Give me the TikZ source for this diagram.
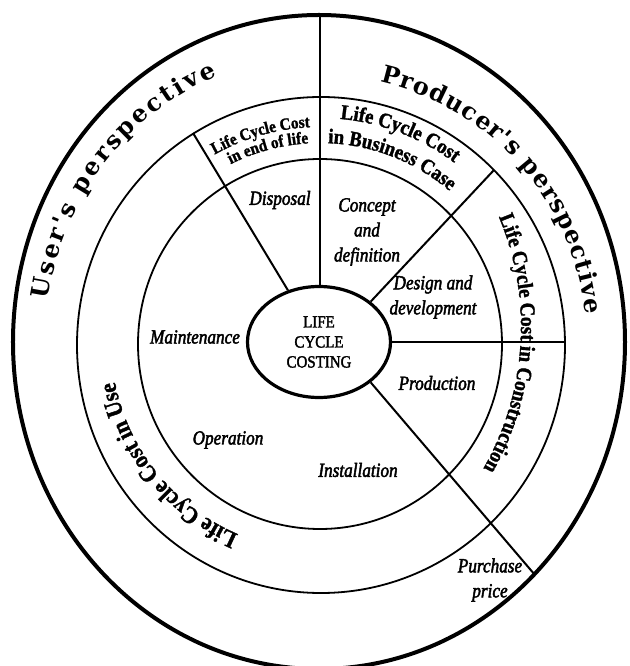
\documentclass[tikz,border=0pt]{standalone}
\usepackage{fontspec}
\setmainfont{Liberation Serif}
\newfontfamily\perspfont{DejaVu Serif}
\newfontfamily\phasefont[FakeStretch=0.86, FakeBold=2.2]{Liberation Serif}
\newfontfamily\bandfont[FakeStretch=0.9, FakeBold=1.5]{Liberation Serif}
\newfontfamily\hubfont[FakeStretch=0.88, FakeBold=2]{Liberation Serif}
\usetikzlibrary{shapes.geometric,decorations.text}

\tikzset{
  rim/.style={line width=4pt},
  ring/.style={line width=1.8pt},
  spoke/.style={line width=2pt},
  hub/.style={ellipse, draw, line width=3.2pt, minimum width=143pt,
    minimum height=111pt, inner sep=0pt, align=center,
    font=\hubfont\fontsize{17}{20}\selectfont},
  phase/.style={font=\phasefont\itshape\fontsize{20}{25}\selectfont,
    align=center, inner sep=0pt},
  curved/.style={decorate, decoration={text along path, text={#1}, text align=center}},
  spread/.style={decorate, decoration={text along path, text={#1}, text align={fit to path}}},
}

\begin{document}
\begin{tikzpicture}[x=1pt,y=1pt]
\useasboundingbox (-320,-324) rectangle (309,342);
\clip (-320,-324) rectangle (309,342);

% rings
\draw[rim] (-1,0) ellipse [x radius=306, y radius=327];
\draw[ring] (1,-3) ellipse [x radius=244, y radius=248];
\draw[ring] (0,-2) ellipse [x radius=182, y radius=185];

% hub
\node[hub] (core) at (-1,0) {LIFE\\CYCLE\\COSTING};

% spoke ends on the rings
\coordinate (topEnd) at (0,327);
\coordinate (ulEnd) at (-127,209);
\coordinate (urEnd) at (174,172);
\coordinate (rEnd) at (245,0);
\coordinate (lrEnd) at (215,-233);

\draw[spoke] (core.north -| topEnd) -- (topEnd);
\draw[spoke] (core.121) -- (ulEnd);
\draw[spoke] (core.38) -- (urEnd);
\draw[spoke] (core.east) -- (rEnd);
\draw[spoke] (core.-38) -- (lrEnd);

% perspectives
\path[spread={|\perspfont\bfseries\fontsize{24}{24}\selectfont|User's perspective}]
  (171.5:275 and 287) arc[start angle=171.5, end angle=112, x radius=275, y radius=287];
\path[spread={|\perspfont\bfseries\fontsize{24}{24}\selectfont|Producer's perspective}]
  (77:267) arc[start angle=77, end angle=6, radius=267];

% cost bands
\path[curved={|\bandfont\bfseries\fontsize{17}{17}\selectfont|Life Cycle Cost}]
  (121:215) arc[start angle=121, end angle=91, radius=215];
\path[curved={|\bandfont\bfseries\fontsize{17}{17}\selectfont|in end of life}]
  (120:199) arc[start angle=120, end angle=90, radius=199];
\path[curved={|\bandfont\bfseries\fontsize{21}{21}\selectfont|Life Cycle Cost}]
  (89:224) arc[start angle=89, end angle=49, radius=224];
\path[curved={|\bandfont\bfseries\fontsize{21}{21}\selectfont|in Business Case}]
  (90:199) arc[start angle=90, end angle=47, radius=199];
\path[shift={(-84,15)}, curved={|\bandfont\bfseries\fontsize{21.5}{21.5}\selectfont|Life Cycle Cost in Construction}]
  (25:285) arc[start angle=25, end angle=-32, radius=285];
\path[curved={|\bandfont\bfseries\fontsize{24}{24}\selectfont|Life Cycle Cost in Use}]
  (250:209) arc[start angle=250, end angle=188, radius=209];

% phases
\node[phase] (disposal) at (-40,142) {Disposal};
\node[phase] (concept) at (47,110) {Concept\\and\\definition};
\node[phase] (design) at (113,45) {Design and\\development};
\node[phase] (maint) at (-125,5) {Maintenance};
\node[phase] (prod) at (117,-41) {Production};
\node[phase] (install) at (38,-128) {Installation};
\node[phase] (oper) at (-92,-98) {Operation};
\node[phase] (purchase) at (170,-238) {Purchase\\price};
\end{tikzpicture}
\end{document}
